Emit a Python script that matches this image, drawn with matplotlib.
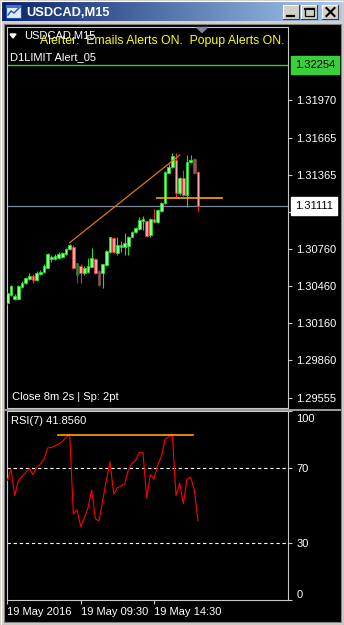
import matplotlib
matplotlib.use('Agg')
import matplotlib.pyplot as plt
import matplotlib.transforms as mtransforms
import numpy as np
from matplotlib.patches import Rectangle, Polygon
from matplotlib.colors import LinearSegmentedColormap

plt.rcParams['font.family'] = ['Liberation Sans', 'DejaVu Sans']

W, H = 344, 625

# ---------------- data ----------------
opens = [1.30322, 1.30389, 1.30355, 1.30359, 1.30454, 1.30486, 1.30519, 1.30543, 1.30511, 1.30560,
         1.30575, 1.30611, 1.30679, 1.30681, 1.30687, 1.30695, 1.30719, 1.30760, 1.30776, 1.30556,
         1.30627, 1.30565, 1.30579, 1.30619, 1.30681, 1.30584, 1.30571, 1.30632, 1.30741, 1.30854,
         1.30732, 1.30781, 1.30781, 1.30787, 1.30862, 1.30903, 1.30921, 1.30993, 1.30990, 1.30876,
         1.31006, 1.30984, 1.31071, 1.31133, 1.31376, 1.31430, 1.31484, 1.31214, 1.31336, 1.31200,
         1.31465, 1.31492, 1.31389]
highs = [1.30416, 1.30470, 1.30397, 1.30470, 1.30503, 1.30538, 1.30568, 1.30560, 1.30584, 1.30592,
         1.30641, 1.30730, 1.30714, 1.30722, 1.30738, 1.30738, 1.30774, 1.30802, 1.30795, 1.30652,
         1.30641, 1.30624, 1.30687, 1.30768, 1.30689, 1.30592, 1.30645, 1.30754, 1.30864, 1.30860,
         1.30862, 1.30827, 1.30894, 1.30872, 1.30912, 1.30941, 1.31020, 1.31031, 1.30998, 1.31014,
         1.31087, 1.31087, 1.31144, 1.31395, 1.31451, 1.31543, 1.31543, 1.31346, 1.31403, 1.31524,
         1.31524, 1.31500, 1.31398]
lows = [1.30308, 1.30384, 1.30349, 1.30355, 1.30446, 1.30481, 1.30511, 1.30489, 1.30503, 1.30552,
        1.30568, 1.30608, 1.30660, 1.30673, 1.30681, 1.30693, 1.30714, 1.30754, 1.30600, 1.30486,
        1.30486, 1.30555, 1.30572, 1.30613, 1.30564, 1.30466, 1.30443, 1.30624, 1.30734, 1.30730,
        1.30714, 1.30741, 1.30714, 1.30714, 1.30856, 1.30896, 1.30917, 1.30917, 1.30864, 1.30856,
        1.30977, 1.30977, 1.31063, 1.31127, 1.31370, 1.31423, 1.31187, 1.31204, 1.31192, 1.31105,
        1.31457, 1.31374, 1.31073]
closes = [1.30403, 1.30462, 1.30381, 1.30465, 1.30489, 1.30524, 1.30540, 1.30511, 1.30571, 1.30579,
          1.30624, 1.30719, 1.30695, 1.30708, 1.30719, 1.30727, 1.30762, 1.30792, 1.30606, 1.30646,
          1.30565, 1.30611, 1.30624, 1.30687, 1.30571, 1.30470, 1.30638, 1.30746, 1.30857, 1.30735,
          1.30795, 1.30795, 1.30813, 1.30862, 1.30903, 1.30930, 1.30998, 1.31004, 1.30871, 1.31006,
          1.30984, 1.31079, 1.31133, 1.31384, 1.31430, 1.31516, 1.31214, 1.31336, 1.31200, 1.31470,
          1.31484, 1.31381, 1.31111]
dim_bars = [19, 25, 51]

rsi = [63.2, 69.3, 55.3, 63.2, 65.3, 67.5, 69.6, 66.3, 70.2, 71.9,
       74.6, 80.4, 80.7, 81.6, 82.5, 83.9, 85.9, 87.7, 45.6, 47.7,
       38.9, 43.5, 48.8, 58.2, 43.0, 41.8, 52.6, 63.2, 73.2, 56.1,
       59.3, 60.4, 61.4, 68.8, 72.3, 73.9, 78.1, 77.9, 54.0, 66.3,
       64.0, 71.6, 75.8, 85.1, 86.3, 87.4, 55.3, 61.8, 50.9, 64.0,
       64.9, 58.2, 41.856]

price_ticks = [1.31970, 1.31665, 1.31365, 1.31065, 1.30760, 1.30460, 1.30160, 1.29860, 1.29555]
rsi_ticks = [0, 30, 70, 100]
rsi_levels = [30, 70]
time_ticks = [0, 20, 40]
time_labels = ['19 May 2016', '19 May 09:30', '19 May 14:30']

last_price = 1.31111
alert_price = 1.32254
trend_x = [17, 47]
trend_y = [1.30814, 1.31524]
hline_x = [40.8, 58.5]
hline_y = 1.31174
rsi_hline_x = [13.9, 50.7]
rsi_hline_y = 87.4

# ---------------- figure ----------------
def rect(x0, y0, x1, y1):
    return [x0 / W, 1 - y1 / H, (x1 - x0) / W, (y1 - y0) / H]

fig = plt.figure(figsize=(W / 100, H / 100), dpi=100, facecolor='#d4d0c8')

bg = fig.add_axes([0, 0, 1, 1], zorder=0)
bg.set_xlim(0, W); bg.set_ylim(H, 0); bg.axis('off')
# window border lines
bg.plot([0.5, W - 0.5], [0.5, 0.5], color='#ffffff', lw=0.8)
bg.plot([0.5, 0.5], [0.5, H - 0.5], color='#ffffff', lw=0.8)
bg.plot([W - 0.5, W - 0.5], [0, H], color='#404040', lw=0.8)
bg.plot([0, W], [H - 0.5, H - 0.5], color='#404040', lw=0.8)
# title bar gradient
cmap = LinearSegmentedColormap.from_list('tb', ['#0a246a', '#a6caf0'])
grad = np.linspace(0, 1, 256).reshape(1, -1)
bg.imshow(grad, cmap=cmap, extent=(2, 342, 21, 2), aspect='auto', zorder=1)
bg.set_xlim(0, W); bg.set_ylim(H, 0)
# client area black
bg.add_patch(Rectangle((4, 24), 337, 598, facecolor='black', edgecolor='#808080', lw=0.8, zorder=1))
# separator between panes
bg.add_patch(Rectangle((4, 408.5), 337, 2.5, facecolor='#9a9a9a', edgecolor='none', zorder=2))
# icon
bg.add_patch(Rectangle((6, 5), 15, 13, facecolor='#dfe8f8', edgecolor='#2050b0', lw=0.8, zorder=2))
bg.plot([8, 11, 14, 19], [15, 11, 13, 8], color='#2050b0', lw=1.0, zorder=3)
bg.add_patch(Rectangle((6, 5), 15, 3, facecolor='#4070d0', edgecolor='none', zorder=3))
# buttons
for bx in [283, 301, 322]:
    bg.add_patch(Rectangle((bx, 5), 16, 14, facecolor='#d4d0c8', edgecolor='none', zorder=2))
    bg.plot([bx, bx + 16], [5, 5], color='white', lw=0.8, zorder=3)
    bg.plot([bx, bx], [5, 19], color='white', lw=0.8, zorder=3)
    bg.plot([bx + 16, bx + 16], [5, 19], color='#404040', lw=0.8, zorder=3)
    bg.plot([bx, bx + 16], [19, 19], color='#404040', lw=0.8, zorder=3)
bg.plot([287, 294], [15.5, 15.5], color='black', lw=1.6, zorder=4)
bg.add_patch(Rectangle((305, 8), 9, 8, facecolor='none', edgecolor='black', lw=0.9, zorder=4))
bg.plot([305, 314], [8.5, 8.5], color='black', lw=1.5, zorder=4)
bg.plot([326.5, 334.5], [8, 16], color='black', lw=1.5, zorder=4)
bg.plot([326.5, 334.5], [16, 8], color='black', lw=1.5, zorder=4)

# ---------------- main pane ----------------
n = len(closes)
x = np.arange(n)
axm = fig.add_axes(rect(6.5, 27, 288, 408), zorder=2)
axm.set_facecolor('black')
axm.set_xlim(-0.23, 76.54)
axm.set_ylim(1.29474, 1.32562)
for s in axm.spines.values():
    s.set_color('#c8c8c8'); s.set_linewidth(0.8)
axm.set_xticks([])
axm.yaxis.tick_right()
axm.set_yticks(price_ticks)
axm.set_yticklabels(['%.5f' % p for p in price_ticks])
axm.tick_params(axis='y', colors='#c8c8c8', labelcolor='white', labelsize=8, length=3, width=0.8, pad=3)

for i in range(n):
    o, h, l, c = opens[i], highs[i], lows[i], closes[i]
    bull = c >= o
    if i in dim_bars:
        face, edge = ('#3d7a3d', '#2f6a2f') if bull else ('#8a5555', '#7a4545')
    else:
        face, edge = ('#8cff8c', '#22dd22') if bull else ('#ffaaaa', '#ff2a2a')
    axm.vlines(x[i], l, h, color=edge, lw=0.8, zorder=3)
    hgt = max(abs(c - o), 0.00002)
    axm.bar(x[i], hgt, bottom=min(o, c), width=0.8, color=face, edgecolor=edge, linewidth=0.6, zorder=4)

axm.axhline(alert_price, color='#32cd32', lw=1.0, zorder=2)
axm.axhline(last_price, color='#778899', lw=0.9, zorder=2)
axm.plot(trend_x, trend_y, color='#e07800', lw=0.9, zorder=5)
axm.plot(hline_x, [hline_y, hline_y], color='#ffa500', lw=1.2, zorder=5)

ytr = axm.get_yaxis_transform()
axm.text(1.0249, alert_price, '%.5f' % alert_price, transform=ytr, ha='left', va='center', fontsize=8,
         color='black', bbox=dict(boxstyle='square,pad=0.35', fc='#3ccf3c', ec='#3ccf3c'), zorder=10, clip_on=False)
axm.text(1.0249, last_price, '%.5f' % last_price, transform=ytr, ha='left', va='center', fontsize=8,
         color='black', bbox=dict(boxstyle='square,pad=0.4', fc='white', ec='white'), zorder=10, clip_on=False)

# ---------------- RSI pane ----------------
axr = fig.add_axes(rect(6.5, 411, 288, 600), zorder=2)
axr.set_facecolor('black')
axr.set_xlim(-0.23, 76.54)
axr.set_ylim(0, 100)
for s in axr.spines.values():
    s.set_color('#c8c8c8'); s.set_linewidth(0.8)
axr.plot(x, rsi, color='#ff0000', lw=0.8, zorder=4)
for lv in rsi_levels:
    axr.axhline(lv, color='white', lw=0.8, ls=(0, (3, 2.5)), zorder=2)
axr.plot(rsi_hline_x, [rsi_hline_y, rsi_hline_y], color='#ffa500', lw=1.2, zorder=5)
axr.yaxis.tick_right()
axr.set_yticks(rsi_ticks)
axr.set_yticklabels([str(t) for t in rsi_ticks])
axr.tick_params(axis='y', colors='#c8c8c8', labelcolor='white', labelsize=8, length=3, width=0.8, pad=3)
axr.set_xticks(time_ticks)
axr.set_xticklabels(time_labels, ha='left')
axr.tick_params(axis='x', colors='#c8c8c8', labelcolor='white', labelsize=8, length=3, width=0.8, pad=2)
ylabs = axr.get_yticklabels()
ylabs[0].set_va('bottom')
ylabs[-1].set_va('top')
ylabs[-1].set_transform(ylabs[-1].get_transform() +
                        mtransforms.ScaledTranslation(0, -3 / 100, fig.dpi_scale_trans))

# ---------------- overlay texts ----------------
ov = fig.add_axes([0, 0, 1, 1], zorder=10)
ov.set_xlim(0, W); ov.set_ylim(H, 0); ov.axis('off'); ov.patch.set_alpha(0)
ov.text(26, 12.5, 'USDCAD,M15', color='white', fontsize=9.3, fontweight='bold', va='center', ha='left')
ov.add_patch(Polygon([(10, 34), (16, 34), (13, 38)], closed=True, color='white'))
ov.text(24, 36, 'USDCAD,M15', color='white', fontsize=8, va='center', ha='left')
ov.text(40, 41, 'Alerter:  Emails Alerts ON.  Popup Alerts ON.', color='#ffff00', fontsize=8.8,
        va='center', ha='left')
ov.text(10, 57.5, 'D1LIMIT Alert_05', color='white', fontsize=8, va='center', ha='left')
ov.add_patch(Polygon([(197, 27.5), (207, 27.5), (202, 32.5)], closed=True, color='#8088a0'))
ov.text(12, 397.5, 'Close 8m 2s | Sp: 2pt', color='white', fontsize=8, va='center', ha='left')
ov.text(11, 421.5, 'RSI(7) 41.8560', color='white', fontsize=8, va='center', ha='left')

fig.savefig('out.png', dpi=100, facecolor=fig.get_facecolor())
